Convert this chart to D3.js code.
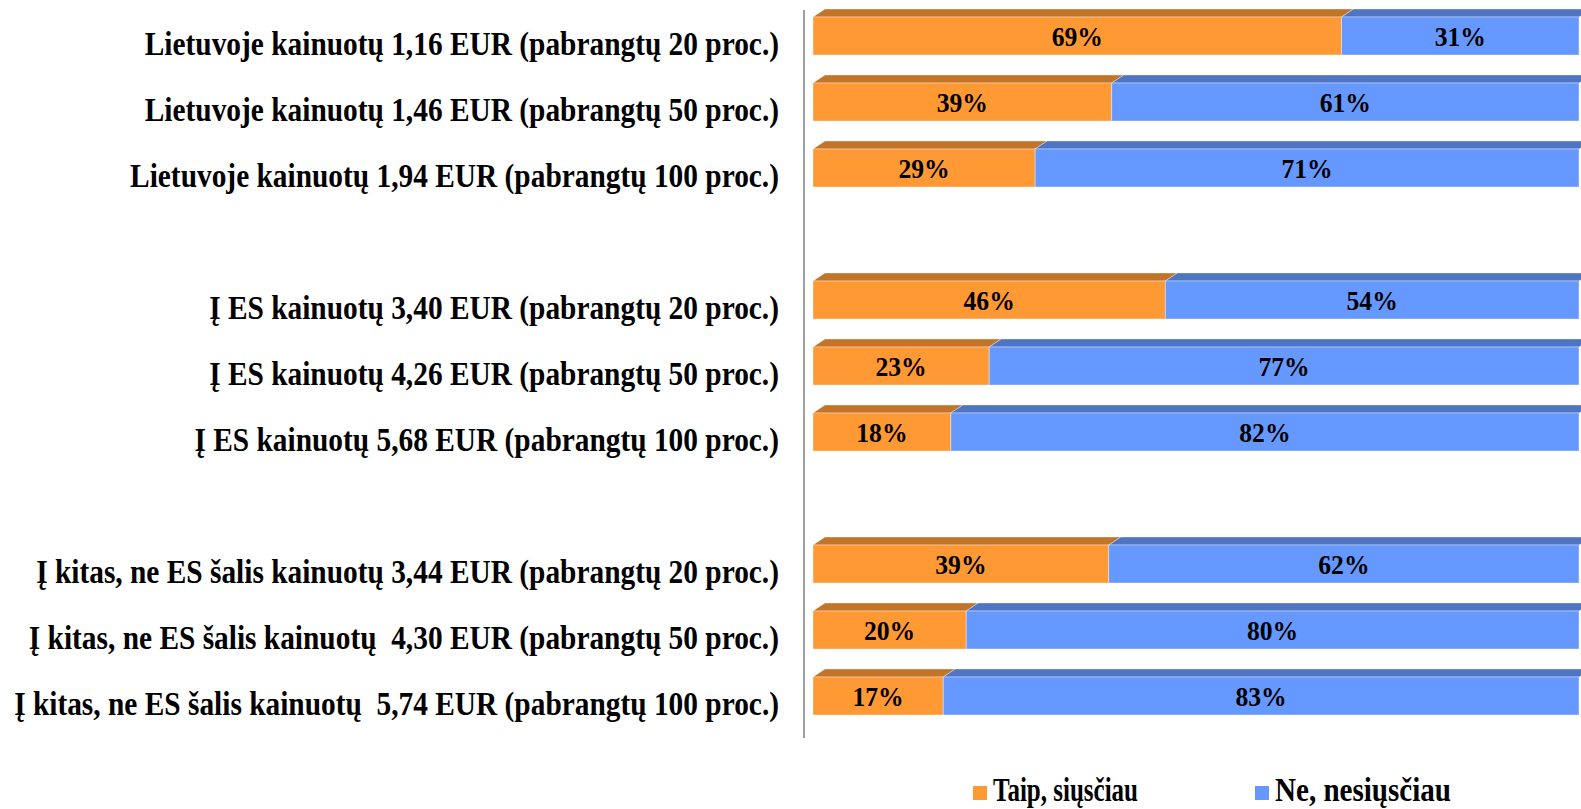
<!DOCTYPE html>
<html>
<head>
<meta charset="utf-8">
<script src="https://cdn.jsdelivr.net/npm/d3@7"></script>
<style>
  body { margin: 0; background: #fff; }
  text { font-family: "Liberation Serif", "Times New Roman", serif; font-weight: bold; }
</style>
</head>
<body>
<svg id="chart" width="1581" height="809"></svg>
<script>
// categories, top to bottom ("" = empty gap row)
let categories = [
    "Lietuvoje kainuotų 1,16 EUR (pabrangtų 20 proc.)",
    "Lietuvoje kainuotų 1,46 EUR (pabrangtų 50 proc.)",
    "Lietuvoje kainuotų 1,94 EUR (pabrangtų 100 proc.)",
    "",
    "Į ES kainuotų 3,40 EUR (pabrangtų 20 proc.)",
    "Į ES kainuotų 4,26 EUR (pabrangtų 50 proc.)",
    "Į ES kainuotų 5,68 EUR (pabrangtų 100 proc.)",
    "",
    "Į kitas, ne ES šalis kainuotų 3,44 EUR (pabrangtų 20 proc.)",
    "Į kitas, ne ES šalis kainuotų  4,30 EUR (pabrangtų 50 proc.)",
    "Į kitas, ne ES šalis kainuotų  5,74 EUR (pabrangtų 100 proc.)"
];
let taip = [69, 39, 29, null, 46, 23, 18, null, 39, 20, 17];
let ne   = [31, 61, 71, null, 54, 77, 82, null, 62, 80, 83];
let seriesNames = ["Taip, siųsčiau", "Ne, nesiųsčiau"];

let colors = {
    front: ["#ff9933", "#6699ff"],
    top:   ["#c27429", "#4f74c2"]
};

let svg = d3.select("#chart");
let depth = { dx: 12, dy: 8 };

let keys = categories.map(function(d, i) { return i; });

let y = d3.scaleBand()
    .domain(keys)
    .range([3, 729])
    .paddingInner(0.424)
    .paddingOuter(0.212);

// 100% stacked -> each row normalised to its own total
let x = d3.scaleLinear().domain([0, 1]).range([813, 1579]);

// axis line
svg.append("line")
    .attr("x1", 804).attr("x2", 804)
    .attr("y1", 10).attr("y2", 738)
    .attr("stroke", "#a0a0a0")
    .attr("stroke-width", 2);

let rows = [];
keys.forEach(function(i) {
    if (taip[i] == null) return;
    let total = taip[i] + ne[i];
    let a = taip[i] / total;
    rows.push({ i: i, segs: [
        { s: 0, x0: 0, x1: a, v: taip[i] },
        { s: 1, x0: a, x1: 1, v: ne[i] }
    ]});
});

let bars = svg.append("g");

rows.forEach(function(r) {
    let top = y(r.i), h = y.bandwidth();
    r.segs.forEach(function(d) {
        let xa = x(d.x0), xb = x(d.x1);
        // top face
        bars.append("path")
            .attr("d", "M" + xa + "," + top +
                " L" + (xa + depth.dx) + "," + (top - depth.dy) +
                " L" + (xb + depth.dx) + "," + (top - depth.dy) +
                " L" + xb + "," + top + "Z")
            .attr("fill", colors.top[d.s])
            .attr("stroke", "rgba(255,255,255,0.45)")
            .attr("stroke-width", 0.8);
        // front face
        bars.append("rect")
            .attr("x", xa).attr("y", top)
            .attr("width", xb - xa).attr("height", h)
            .attr("fill", colors.front[d.s])
            .attr("stroke", "rgba(255,255,255,0.45)")
            .attr("stroke-width", 0.8);
    });
    r.segs.forEach(function(d) {
        bars.append("text")
            .attr("transform", "translate(" + ((x(d.x0) + x(d.x1)) / 2) + "," + (top + h / 2 + 10) + ") scale(0.95,1)")
            .attr("text-anchor", "middle")
            .attr("font-size", 27)
            .attr("fill", "#000")
            .text(d.v + "%");
    });
});

// category labels, condensed to fit the left margin
let labels = svg.append("g");
let lab = labels.selectAll("text")
    .data(keys.filter(function(i) { return categories[i] !== ""; }))
    .enter().append("text")
    .attr("text-anchor", "end")
    .attr("font-size", 33)
    .attr("fill", "#000")
    .attr("xml:space", "preserve")
    .style("white-space", "pre")
    .text(function(i) { return categories[i]; });

let maxW = 0;
lab.each(function() { maxW = Math.max(maxW, this.getComputedTextLength()); });
let k = 765 / maxW;

lab.attr("transform", function(i) {
    return "translate(779," + (y(i) + y.bandwidth() / 2 + 19) + ") scale(" + k + ",1)";
});

// legend
let legendX = [973, 1255];
let legendW = [145, 176];
let legend = svg.append("g");
seriesNames.forEach(function(name, s) {
    legend.append("rect")
        .attr("x", legendX[s]).attr("y", 786)
        .attr("width", 14).attr("height", 14)
        .attr("fill", colors.front[s]);
    legend.append("text")
        .attr("x", legendX[s] + 20)
        .attr("y", 801)
        .attr("font-size", 34)
        .attr("textLength", legendW[s])
        .attr("lengthAdjust", "spacingAndGlyphs")
        .attr("fill", "#000")
        .text(name);
});
</script>
</body>
</html>
